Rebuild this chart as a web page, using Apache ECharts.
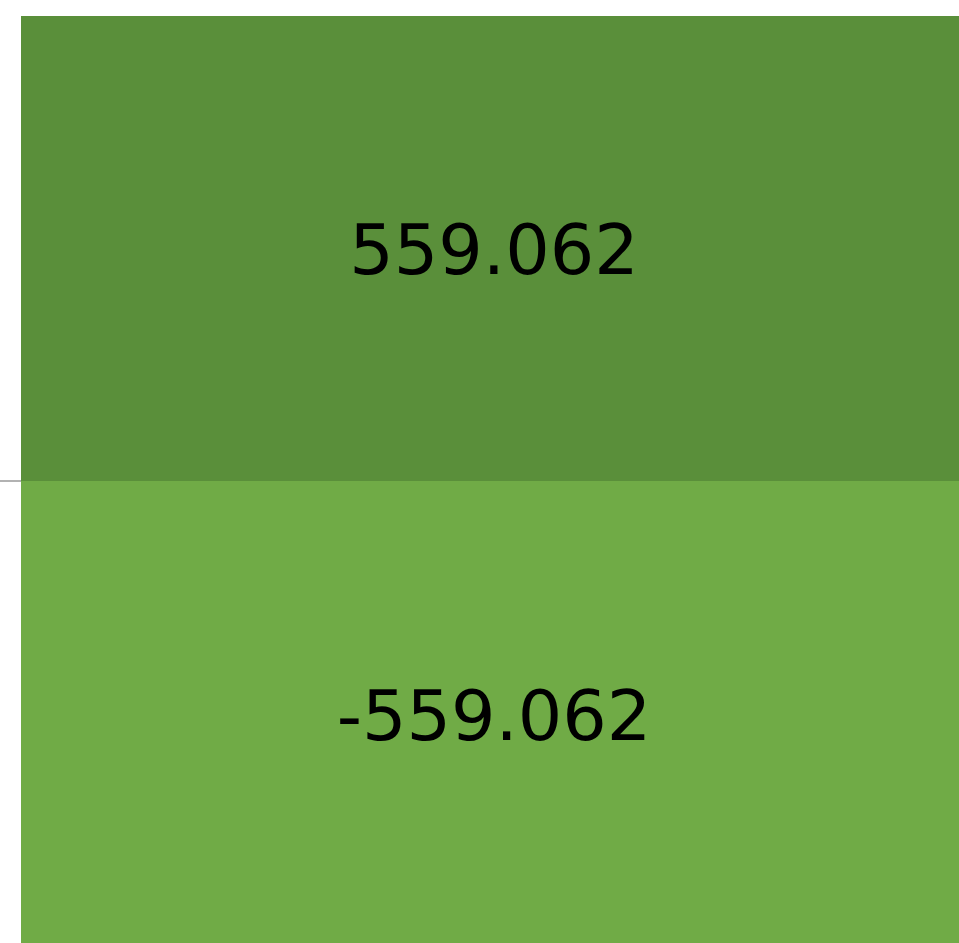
<!DOCTYPE html>
<html>
<head>
<meta charset="utf-8">
<script src="https://cdn.jsdelivr.net/npm/echarts@6/dist/echarts.min.js"></script>
<style>
  html, body { margin: 0; padding: 0; background: #fff; }
  #chart { width: 959px; height: 943px; }
</style>
</head>
<body>
<div id="chart"></div>
<script>
// 数据
const categories = ['A'];
const upValues = [559.062];
const downValues = [-559.062];

const chart = echarts.init(document.getElementById('chart'));

const makeLabel = offset => ({
  show: true,
  position: 'inside',
  color: '#000',
  fontFamily: 'DejaVu Sans',
  fontSize: 70,
  offset: offset,
  formatter: p => String(p.value)
});

chart.setOption({
  animation: false,
  grid: { left: 0, top: 16, bottom: 0, right: 0 },
  xAxis: {
    type: 'category',
    data: categories,
    axisLine: { onZero: true, lineStyle: { color: '#999', width: 1.5 } },
    axisTick: { show: false },
    axisLabel: { show: false }
  },
  yAxis: {
    type: 'value',
    max: 559.062,
    min: -555.5,
    show: false,
    splitLine: { show: false }
  },
  series: [
    // 左侧留白占位（不绘制）
    {
      type: 'bar',
      data: [null],
      barWidth: 21,
      barGap: 0,
      silent: true,
      itemStyle: { color: 'transparent' }
    },
    {
      type: 'bar',
      stack: 'total',
      data: upValues,
      barWidth: 938,
      barGap: 0,
      itemStyle: { color: '#5a8f3a' },
      label: makeLabel([4, 7])
    },
    {
      type: 'bar',
      stack: 'total',
      data: downValues,
      barWidth: 938,
      barGap: 0,
      itemStyle: { color: '#70ab46' },
      label: makeLabel([4, 10])
    }
  ]
});
</script>
</body>
</html>
